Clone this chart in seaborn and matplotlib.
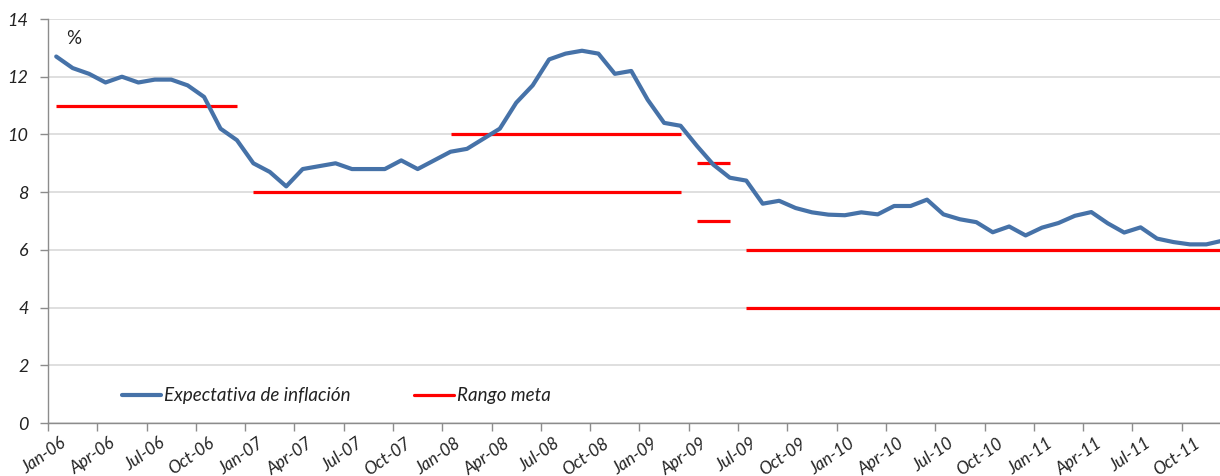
import numpy as np
import pandas as pd
import matplotlib
matplotlib.use("Agg")
import matplotlib.pyplot as plt
import matplotlib.transforms as mtransforms
from matplotlib.lines import Line2D
import seaborn as sns

# Monthly inflation expectations, Jan-2006 .. Dec-2011 (%)
months = pd.date_range("2006-01-01", "2011-12-01", freq="MS").strftime("%b-%y").tolist()
expectativa = [
    12.7, 12.3, 12.1, 11.8, 12.0, 11.8, 11.9, 11.9, 11.7, 11.3, 10.2, 9.8,   # 2006
    9.0, 8.7, 8.2, 8.8, 8.9, 9.0, 8.8, 8.8, 8.8, 9.1, 8.8, 9.1,              # 2007
    9.4, 9.5, 9.85, 10.2, 11.1, 11.7, 12.6, 12.8, 12.9, 12.8, 12.1, 12.2,    # 2008
    11.2, 10.4, 10.3, 9.6, 8.95, 8.5, 8.4, 7.6, 7.7, 7.45, 7.3, 7.22,        # 2009
    7.2, 7.3, 7.23, 7.52, 7.52, 7.74, 7.23, 7.06, 6.96, 6.61, 6.81, 6.5,     # 2010
    6.77, 6.93, 7.18, 7.31, 6.92, 6.6, 6.78, 6.39, 6.27, 6.19, 6.19, 6.32,   # 2011
]

# Target range segments (level, first month, last month)
meta_nivel = [11, 8, 10, 9, 7, 6, 4]
meta_desde = ["Jan-06", "Jan-07", "Jan-08", "Apr-09", "Apr-09", "Jul-09", "Jul-09"]
meta_hasta = ["Dec-06", "Mar-09", "Mar-09", "Jun-09", "Jun-09", "Dec-11", "Dec-11"]

y_ticks = [0, 2, 4, 6, 8, 10, 12, 14]
x_tick_labels = months[::3]

BLUE = "#4672A8"
RED = "#FF0000"
GRID = "#D9D9D9"
AXIS = "#8C8C8C"
TEXT = "#222222"

sns.set_theme(style="white")
plt.rcParams["font.family"] = ["Lato", "DejaVu Sans"]

fig = plt.figure(figsize=(12.2, 4.76), dpi=100)
ax = fig.add_axes([48 / 1220, 1 - 423 / 476, 1 - 48 / 1220, (423 - 19) / 476])

# each month is plotted in the middle of its category slot
df = pd.DataFrame({"pos": np.arange(len(months)) + 0.5, "valor": expectativa})
idx = {m: i for i, m in enumerate(months)}

for lvl, a, b in zip(meta_nivel, meta_desde, meta_hasta):
    ax.hlines(lvl, idx[a] + 0.5, idx[b] + 0.5, color=RED, lw=2.3, zorder=3)

sns.lineplot(data=df, x="pos", y="valor", ax=ax, color=BLUE, lw=3.0,
             solid_joinstyle="round", solid_capstyle="round", zorder=4)

ax.set_xlim(0, (1220 - 48) / 16.43)
ax.set_ylim(0, 14)
ax.set_yticks(y_ticks)
ax.set_yticklabels([str(v) for v in y_ticks], fontsize=13, fontstyle="italic", color=TEXT)

# quarterly ticks on the category boundaries, rotated labels hung below them
tick_pos = np.arange(0, len(months), 3)
ax.set_xticks(tick_pos)
ax.set_xticklabels([])
lab_tr = mtransforms.blended_transform_factory(ax.transData, ax.transAxes) + \
    mtransforms.ScaledTranslation(12 / 100, -12 / 100, fig.dpi_scale_trans)
for p, lab in zip(tick_pos, x_tick_labels):
    ax.text(p, 0, lab, transform=lab_tr, rotation=35, rotation_mode="anchor",
            ha="right", va="top", fontsize=12.3, fontstyle="italic", color=TEXT,
            clip_on=False)

ax.set_xlabel("")
ax.set_ylabel("")
ax.grid(axis="y", color=GRID, lw=1.2)
ax.grid(axis="x", visible=False)
ax.set_axisbelow(True)
for s in ["top", "right"]:
    ax.spines[s].set_visible(False)
for s in ["left", "bottom"]:
    ax.spines[s].set_color(AXIS)
    ax.spines[s].set_linewidth(1.0)
ax.tick_params(axis="both", which="both", direction="out", length=6, width=1.0,
               color=AXIS, bottom=True, left=True)
ax.tick_params(axis="y", pad=8)

fig.text(66 / 1220, 1 - 39 / 476, "%", fontsize=13.5, color=TEXT, va="center", ha="left")

handles = [Line2D([], [], color=BLUE, lw=3.0), Line2D([], [], color=RED, lw=2.3)]
leg = ax.legend(handles, ["Expectativa de inflación", "Rango meta"], ncol=2, frameon=False,
                loc="center left", bbox_to_anchor=(105 / 1220, 1 - 396 / 476),
                bbox_transform=fig.transFigure, handlelength=2.1, handletextpad=0.15,
                columnspacing=3.4, prop={"size": 13.5, "style": "italic"})
for t in leg.get_texts():
    t.set_color(TEXT)

fig.savefig("out.png", dpi=100)
